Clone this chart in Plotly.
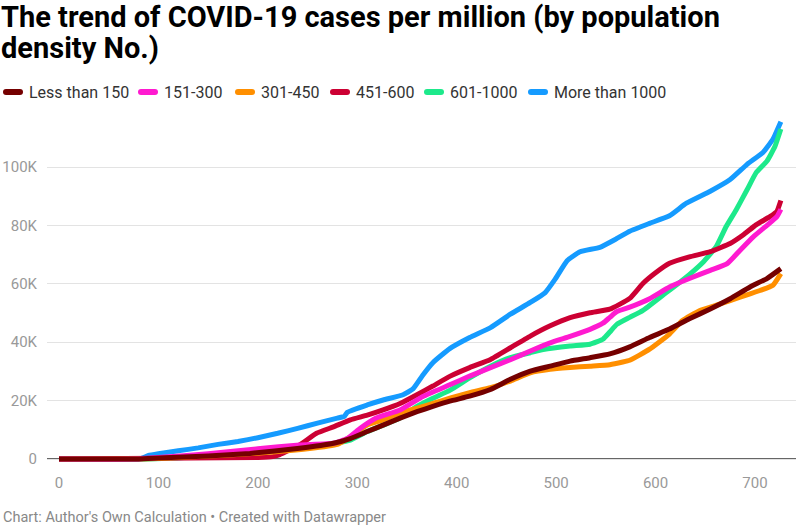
import plotly.graph_objects as go

# ---------------- data (values in thousands of cases per million) ----------------
series_names = ["Less than 150", "151-300", "301-450", "451-600", "601-1000", "More than 1000"]
series_colors = ["#750000", "#ff1ad0", "#ff8f00", "#cc0033", "#1de98b", "#159bff"]

less150_days = [0, 80, 100, 150, 192, 242, 276, 293, 310, 326, 343, 360, 376, 393, 413, 434, 454,
                474, 494, 514, 534, 554, 574, 594, 614, 634, 655, 675, 695, 712, 726]
less150_vals = [0, 0, 0.3, 1.0, 1.9, 3.7, 5.4, 7.0, 9.4, 11.6, 14.0, 16.2, 18.0, 19.8, 21.5, 23.8, 27.3,
                30.1, 31.8, 33.5, 34.7, 36.0, 38.4, 41.6, 44.5, 48.0, 51.4, 54.9, 58.9, 61.8, 65.2]

d151_300_days = [0, 80, 100, 150, 200, 242, 276, 290, 303, 319, 343, 366, 393, 413, 434, 454, 474, 494,
                 514, 534, 547, 554, 561, 574, 594, 614, 634, 655, 672, 685, 698, 712, 722, 726]
d151_300_vals = [0, 0, 0.5, 1.8, 3.5, 4.8, 5.4, 7.0, 10.5, 14.0, 16.8, 21.4, 25.4, 28.4, 31.3, 34.0, 37.0, 39.8,
                 42.0, 44.4, 46.5, 48.5, 50.5, 52.0, 54.9, 58.9, 61.8, 64.6, 66.9, 71.5, 76.0, 80.0, 83.0, 85.5]

d301_450_days = [0, 100, 150, 200, 250, 280, 293, 310, 326, 343, 360, 376, 393, 413, 434, 454, 474, 494,
                 514, 534, 554, 567, 574, 594, 614, 627, 644, 665, 685, 705, 718, 726]
d301_450_vals = [0, 0.2, 1.0, 2.0, 3.5, 5.0, 7.6, 11.6, 13.4, 15.7, 17.4, 19.0, 20.8, 22.7, 24.4, 26.7, 29.5, 30.7,
                 31.3, 31.8, 32.3, 33.2, 33.8, 37.6, 42.8, 47.4, 50.8, 53.1, 55.4, 57.7, 59.5, 63.5]

d451_600_days = [0, 200, 215, 222, 242, 259, 276, 293, 310, 326, 343, 360, 376, 393, 413, 434, 454, 474,
                 494, 514, 534, 554, 574, 587, 601, 614, 634, 655, 675, 688, 701, 715, 722, 726]
d451_600_vals = [0, 0.5, 0.8, 1.5, 4.8, 8.8, 11.0, 13.4, 15.0, 16.8, 19.0, 22.0, 25.0, 28.3, 31.3, 34.1, 38.1, 42.1,
                 45.6, 48.4, 50.1, 51.3, 55.0, 60.0, 64.0, 67.0, 69.2, 71.0, 73.8, 76.7, 80.2, 83.0, 84.8, 88.5]

d601_1000_days = [0, 90, 150, 200, 250, 280, 293, 310, 326, 343, 360, 376, 393, 413, 434, 454, 474, 487,
                  514, 534, 547, 554, 561, 574, 587, 607, 627, 648, 661, 671, 681, 692, 701, 712, 720, 726]
d601_1000_vals = [0, 0, 1.0, 2.5, 4.0, 5.5, 6.5, 9.4, 11.6, 14.0, 18.0, 20.8, 23.5, 27.8, 31.8, 34.7, 36.4, 37.5,
                  38.7, 39.3, 41.0, 43.5, 46.1, 48.5, 50.8, 56.0, 61.2, 67.5, 72.7, 79.6, 85.3, 92.2, 98.0, 102.0, 107.0, 113.0]

more1000_days = [0, 80, 85, 90, 100, 120, 140, 160, 180, 200, 220, 240, 260, 280, 287, 290, 310, 326, 346,
                 356, 366, 376, 393, 413, 434, 454, 474, 489, 499, 511, 524, 544, 560, 574, 594, 614, 631,
                 655, 675, 692, 708, 718, 726]
more1000_vals = [0, 0, 0.5, 1.2, 1.8, 2.8, 3.8, 5.0, 6.0, 7.3, 8.8, 10.5, 12.3, 14.0, 14.6, 16.0, 18.5, 20.2, 22.0,
                 24.0, 28.8, 33.0, 37.8, 41.6, 45.0, 49.6, 53.6, 57.0, 61.6, 67.9, 71.0, 72.5, 75.3, 78.0, 80.7, 83.3, 87.6,
                 91.7, 95.7, 100.9, 105.0, 109.5, 115.5]

x_tick_vals = [0, 100, 200, 300, 400, 500, 600, 700]
y_tick_vals = [0, 20000, 40000, 60000, 80000, 100000]
y_tick_text = ["0", "20K", "40K", "60K", "80K", "100K"]

title_lines = ["The trend of COVID-19 cases per million (by population", "density No.)"]
footer_text = "Chart: Author's Own Calculation • Created with Datawrapper"

all_days = [less150_days, d151_300_days, d301_450_days, d451_600_days, d601_1000_days, more1000_days]
all_vals = [less150_vals, d151_300_vals, d301_450_vals, d451_600_vals, d601_1000_vals, more1000_vals]

# ---------------- layout geometry ----------------
W, H = 796, 530
ML, MR, MT, MB = 47, 0, 110, 67
PW = W - ML - MR
PH = H - MT - MB
PX_PER_DAY = 0.9943
X0_PX = 59          # pixel position of day 0
Y0_PX = 459         # pixel position of value 0
PX_PER_K = 2.92

xmin = -(X0_PX - ML) / PX_PER_DAY
xmax = xmin + PW / PX_PER_DAY
ymin = -((H - MB) - Y0_PX) / PX_PER_K * 1000
ymax = ymin + PH / PX_PER_K * 1000


def px_x(px):
    return (px - ML) / PW


def px_y(py):
    return (H - MB - py) / PH


FONT = "Roboto, 'Noto Sans', sans-serif"

fig = go.Figure()

# draw so that the first series ends up on top
for i in reversed(range(len(series_names))):
    fig.add_trace(go.Scatter(
        x=all_days[i],
        y=[v * 1000 for v in all_vals[i]],
        mode="lines",
        name=series_names[i],
        line=dict(color=series_colors[i], width=5, shape="spline", smoothing=0.4),
        showlegend=False,
        hoverinfo="skip",
    ))

shapes = []
annotations = []

# custom legend row
legend_marker_left = [3, 138, 235, 330, 424, 528]
legend_y = 92
bar_path = "M3,-3 L17,-3 Q20,-3 20,0 Q20,3 17,3 L3,3 Q0,3 0,0 Q0,-3 3,-3 Z"
for name, color, left in zip(series_names, series_colors, legend_marker_left):
    shapes.append(dict(
        type="path", xref="paper", yref="paper",
        xsizemode="pixel", ysizemode="pixel",
        xanchor=px_x(left), yanchor=px_y(legend_y),
        path=bar_path, fillcolor=color, line=dict(width=0),
    ))
    annotations.append(dict(
        x=px_x(left + 24), y=px_y(legend_y), xref="paper", yref="paper",
        xanchor="left", yanchor="middle", showarrow=False,
        text=name, font=dict(family=FONT, size=16, color="#333333"),
    ))

# baseline
shapes.append(dict(type="line", xref="paper", yref="y", x0=0, x1=1, y0=0, y1=0,
                   line=dict(color="#333333", width=1.5), layer="below"))

for line_text, cy in zip(title_lines, [17, 48]):
    annotations.append(dict(
        x=px_x(0), y=px_y(cy), xref="paper", yref="paper", xanchor="left", yanchor="middle",
        align="left", showarrow=False, text="<b>" + line_text + "</b>", borderpad=0,
        font=dict(family=FONT, size=29, color="#000000"),
    ))
annotations.append(dict(
    x=px_x(1), y=px_y(517), xref="paper", yref="paper", xanchor="left", yanchor="middle",
    align="left", showarrow=False, text=footer_text,
    font=dict(family=FONT, size=14.5, color="#888888"),
))

fig.update_layout(
    width=W, height=H,
    margin=dict(l=ML, r=MR, t=MT, b=MB, pad=0),
    paper_bgcolor="white", plot_bgcolor="white",
    showlegend=False,
    hovermode=False,
    shapes=shapes,
    annotations=annotations,
    xaxis=dict(
        range=[xmin, xmax], tickvals=x_tick_vals, showgrid=False, zeroline=False,
        showline=False, ticks="", ticklabelstandoff=9, fixedrange=True,
        tickfont=dict(family=FONT, size=15, color="#999999"),
    ),
    yaxis=dict(
        range=[ymin, ymax], tickvals=y_tick_vals, ticktext=y_tick_text,
        showgrid=True, gridcolor="#e3e3e3", gridwidth=1, zeroline=False,
        showline=False, ticks="", ticklabelstandoff=9, fixedrange=True,
        tickfont=dict(family=FONT, size=15, color="#999999"),
    ),
)

fig.write_html(
    "out.html",
    config={"displayModeBar": False, "staticPlot": True},
    post_script="document.body.style.margin='0';document.body.style.overflow='hidden';",
)
